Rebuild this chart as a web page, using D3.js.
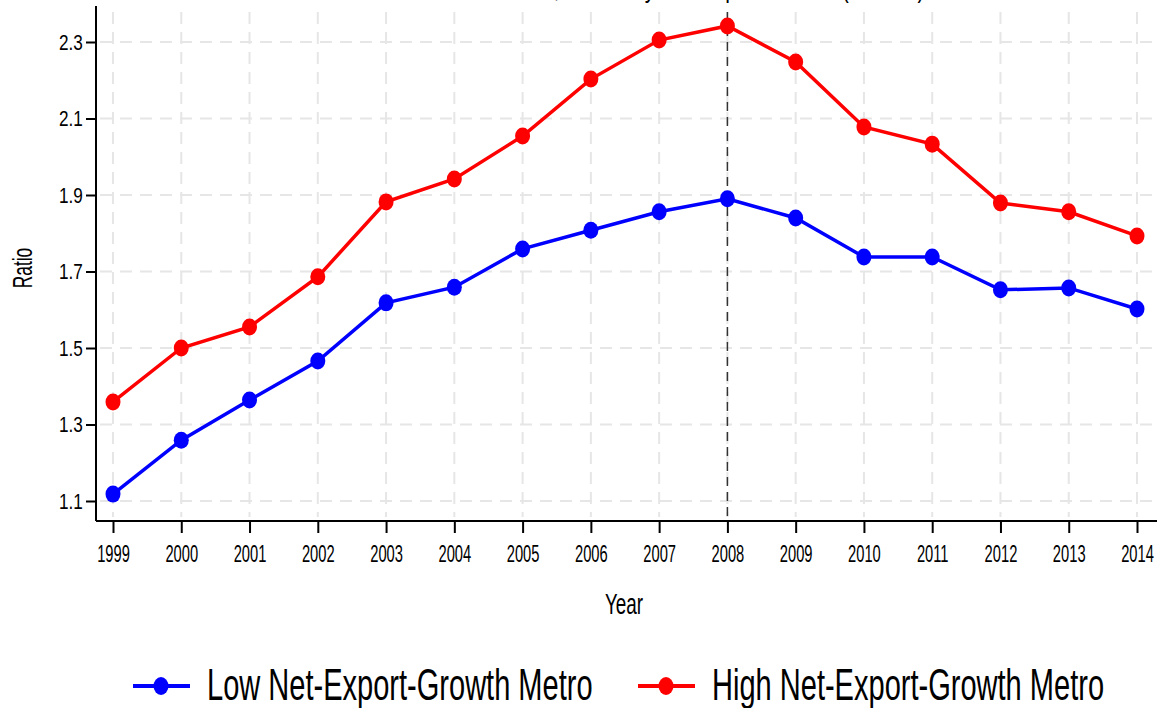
<!DOCTYPE html>
<html>
<head>
<meta charset="utf-8">
<script src="https://cdn.jsdelivr.net/npm/d3@7"></script>
<style>
  body { margin: 0; background: #fff; }
  text { font-family: "Liberation Sans", Arial, sans-serif; fill: #000; }
</style>
</head>
<body>
<svg id="chart" width="1161" height="708"></svg>
<script>
// Data
const years = [1999, 2000, 2001, 2002, 2003, 2004, 2005, 2006, 2007, 2008, 2009, 2010, 2011, 2012, 2013, 2014];
const lowGrowth  = [1.118, 1.259, 1.364, 1.466, 1.618, 1.659, 1.759, 1.808, 1.856, 1.890, 1.840, 1.738, 1.738, 1.652, 1.657, 1.602];
const highGrowth = [1.359, 1.500, 1.555, 1.686, 1.882, 1.942, 2.054, 2.203, 2.305, 2.342, 2.248, 2.078, 2.033, 1.879, 1.856, 1.793];
const yTicks = [1.1, 1.3, 1.5, 1.7, 1.9, 2.1, 2.3];
const seriesNames = ["Low Net-Export-Growth Metro", "High Net-Export-Growth Metro"];
const seriesColors = ["#0000ff", "#ff0000"];
const markYear = 2008;

const svg = d3.select('#chart');

// plot frame
const plotLeft = 96, plotRight = 1157, plotTop = 6, plotBottom = 521;

const x = d3.scaleLinear().domain([1999, 2014]).range([113, 1137]);
const y = d3.scaleLinear().domain([1.1, 2.3]).range([501, 42]);

// condensed text helper (no narrow font installed)
function label(px, py, str, size, sx, anchor, rot) {
    return svg.append('text')
        .attr('transform', `translate(${px},${py})${rot ? ' rotate(' + rot + ')' : ''} scale(${sx},1)`)
        .attr('text-anchor', anchor || 'start')
        .style('font-size', size + 'px')
        .text(str);
}

// title (cut off at the top edge, as in the picture)
label(619, -3, 'Home Price-Income Ratio, Sorted by Net-Export-Growth (Median)', 28, 0.75, 'middle');

// gridlines
const grid = svg.append('g');
grid.selectAll('.hgrid')
    .data(yTicks)
    .enter()
    .append('line')
    .attr('x1', plotLeft + 4).attr('x2', plotRight)
    .attr('y1', d => y(d)).attr('y2', d => y(d))
    .attr('stroke', '#e6e6e6')
    .attr('stroke-width', 2)
    .attr('stroke-dasharray', '12,8');
grid.selectAll('.vgrid')
    .data(years)
    .enter()
    .append('line')
    .attr('x1', d => x(d)).attr('x2', d => x(d))
    .attr('y1', 12).attr('y2', plotBottom - 4)
    .attr('stroke', '#e6e6e6')
    .attr('stroke-width', 2)
    .attr('stroke-dasharray', '12,8');

// 2008 marker line
svg.append('line')
    .attr('x1', x(markYear)).attr('x2', x(markYear))
    .attr('y1', 12).attr('y2', plotBottom)
    .attr('stroke', '#333')
    .attr('stroke-width', 1.5)
    .attr('stroke-dasharray', '9,6');

// axes
const yAxis = svg.append('g')
    .attr('transform', `translate(${plotLeft},0)`)
    .call(d3.axisLeft(y).tickValues(yTicks).tickFormat(d3.format('.1f')).tickSize(10).tickPadding(7));
const xAxis = svg.append('g')
    .attr('transform', `translate(0,${plotBottom})`)
    .call(d3.axisBottom(x).tickValues(years).tickFormat(d3.format('d')).tickSize(12).tickPadding(13));
[yAxis, xAxis].forEach(a => {
    a.select('.domain').remove();
    a.selectAll('.tick line').attr('stroke', '#000').attr('stroke-width', 2);
});
yAxis.selectAll('.tick text')
    .style('font-size', '22px')
    .attr('fill', '#000')
    .attr('transform', 'scale(0.78,1)');
xAxis.selectAll('.tick text')
    .style('font-size', '23px')
    .attr('fill', '#000')
    .attr('transform', 'scale(0.64,1)');
svg.append('line')
    .attr('x1', plotLeft).attr('x2', plotLeft).attr('y1', plotTop).attr('y2', plotBottom)
    .attr('stroke', '#000').attr('stroke-width', 2);
svg.append('line')
    .attr('x1', plotLeft).attr('x2', plotRight).attr('y1', plotBottom).attr('y2', plotBottom)
    .attr('stroke', '#000').attr('stroke-width', 2);

// axis titles
label(32, 268, 'Ratio', 28, 0.62, 'middle', -90);
label(624, 614, 'Year', 30, 0.63, 'middle');

// series
const series = [lowGrowth, highGrowth];
const line = d3.line()
    .x((d, i) => x(years[i]))
    .y(d => y(d));

series.forEach((vals, s) => {
    svg.append('path')
        .datum(vals)
        .attr('d', line)
        .attr('fill', 'none')
        .attr('stroke', seriesColors[s])
        .attr('stroke-width', 3.5);
    svg.selectAll('.pt' + s)
        .data(vals)
        .enter()
        .append('ellipse')
        .attr('cx', (d, i) => x(years[i]))
        .attr('cy', d => y(d))
        .attr('rx', 7.5)
        .attr('ry', 8.5)
        .attr('fill', seriesColors[s]);
});

// legend
const legendX = [133, 638];
seriesNames.forEach((name, s) => {
    const g = svg.append('g').attr('transform', `translate(${legendX[s]},686)`);
    g.append('line')
        .attr('x1', 0).attr('x2', 57)
        .attr('stroke', seriesColors[s]).attr('stroke-width', 4);
    g.append('ellipse')
        .attr('cx', 28).attr('rx', 7.5).attr('ry', 9)
        .attr('fill', seriesColors[s]);
    g.append('text')
        .attr('transform', 'translate(74,14) scale(0.66,1)')
        .style('font-size', '44px')
        .text(name);
});
</script>
</body>
</html>
